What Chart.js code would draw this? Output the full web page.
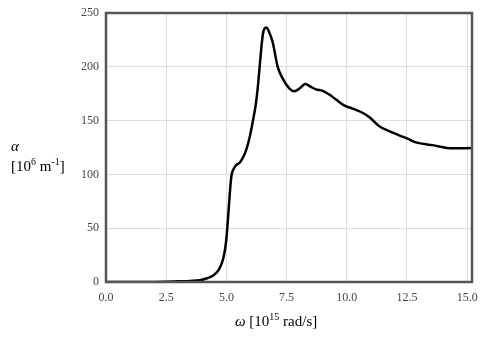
<!DOCTYPE html>
<html>
<head>
<meta charset="utf-8">
<script src="https://cdn.jsdelivr.net/npm/chart.js@4/dist/chart.umd.min.js"></script>
<style>
    body { margin: 0; background: #fff; }
    #wrap { position: relative; width: 484px; height: 339px; }
    .title { position: absolute; font-family: "Liberation Serif", serif; font-size: 15px; color: #000; white-space: nowrap; }
    .title sup { font-size: 10px; vertical-align: 6px; line-height: 0; }
</style>
</head>
<body>
<div id="wrap">
    <canvas id="chart" width="484" height="339"></canvas>
    <div class="title" style="left: 11px; top: 136px; line-height: 20px;"><i>α</i><br>[10<sup>6</sup> m<sup>-1</sup>]</div>
    <div class="title" style="left: 235px; top: 313px;"><i>ω</i> [10<sup>15</sup> rad/s]</div>
</div>
<script>
// omega in 10^15 rad/s, alpha in 10^6 1/m
const omega = [0, 1, 2, 2.5, 3.0, 3.5, 3.9, 4.2, 4.45, 4.7,
    4.88, 4.99, 5.07, 5.14, 5.21, 5.3, 5.4, 5.57, 5.79, 5.98,
    6.12, 6.22, 6.3, 6.38, 6.51, 6.58, 6.67, 6.76, 6.92, 7.13, 7.34,
    7.61, 7.82, 8.05, 8.27, 8.5, 8.72, 9.0, 9.27, 9.55, 9.87,
    10.24, 10.59, 10.93, 11.35, 11.76, 12.18, 12.52, 12.87, 13.56, 14.39,
    15.2];
const alpha = [0, 0, 0.1, 0.3, 0.6, 1.0, 1.7, 3.5, 6, 12,
    22.8, 38, 60, 82, 99, 105, 108.5, 111.4, 120.7, 136,
    152, 165, 180, 200, 229.6, 235.5, 236.5, 233, 223, 200, 189,
    180, 177.3, 180, 184, 181.5, 179, 177.6, 174.2, 169.6, 164.3,
    161.2, 158, 153.4, 144.7, 140.3, 136.3, 133.2, 129.8, 127.2, 124.2,
    124.5];
const xTicks = [0, 2.5, 5, 7.5, 10, 12.5, 15];
const yTicks = [0, 50, 100, 150, 200, 250];

const points = omega.map((w, i) => ({ x: w, y: alpha[i] }));

const frame = {
    id: 'frame',
    afterDraw(chart) {
        const { ctx, chartArea: a } = chart;
        ctx.save();
        ctx.strokeStyle = '#555';
        ctx.lineWidth = 2.5;
        ctx.strokeRect(a.left, a.top, a.right - a.left, a.bottom - a.top);
        ctx.restore();
    }
};

const tickFont = { family: 'Liberation Serif', size: 12 };

new Chart(document.getElementById('chart'), {
    type: 'line',
    data: {
        datasets: [{
            data: points,
            borderColor: '#000',
            borderWidth: 2.5,
            pointRadius: 0,
            cubicInterpolationMode: 'monotone',
            fill: false,
        }]
    },
    options: {
        responsive: false,
        animation: false,
        layout: { padding: { left: 0, right: 12, top: 13, bottom: 0 } },
        scales: {
            x: {
                type: 'linear',
                min: 0,
                max: 15.2,
                afterFit: (s) => { s.height = 57; s.paddingLeft = 0; s.paddingRight = 0; },
                afterBuildTicks: (s) => { s.ticks = xTicks.map((v) => ({ value: v })); },
                border: { display: false },
                grid: { color: '#dcdcdc', drawTicks: false },
                ticks: {
                    font: tickFont,
                    color: '#444',
                    padding: 9,
                    maxRotation: 0,
                    callback: (v) => v.toFixed(1)
                }
            },
            y: {
                min: 0,
                max: 250,
                afterFit: (s) => { s.width = 106; s.paddingTop = 0; s.paddingBottom = 0; },
                afterBuildTicks: (s) => { s.ticks = yTicks.map((v) => ({ value: v })); },
                border: { display: false },
                grid: { color: '#dcdcdc', drawTicks: false },
                ticks: {
                    font: tickFont,
                    color: '#444',
                    padding: 7
                }
            }
        },
        plugins: {
            legend: { display: false },
            tooltip: { enabled: false }
        }
    },
    plugins: [frame]
});
</script>
</body>
</html>
